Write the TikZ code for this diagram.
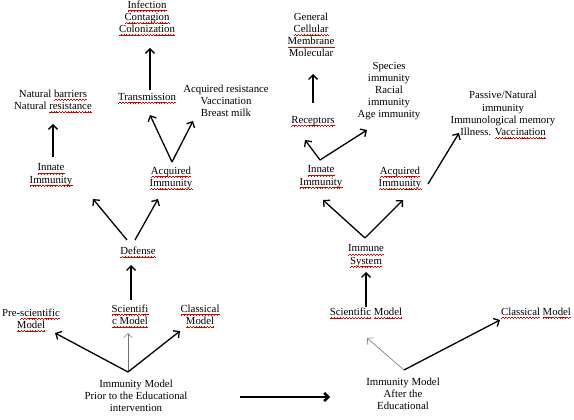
\documentclass[tikz,border=0pt]{standalone}
\usepackage{fontspec}
\setmainfont{Liberation Serif}
\usetikzlibrary{arrows.meta}
\newsavebox\rwbox
\newsavebox\waveunit
\sbox\waveunit{\color{red!85!black}%
  \raise0pt\hbox{\vrule width0.7pt height0.4pt depth0pt}%
  \raise0.4pt\hbox{\vrule width0.7pt height0.4pt depth0pt}%
  \raise0.8pt\hbox{\vrule width0.7pt height0.4pt depth0pt}%
  \raise0.4pt\hbox{\vrule width0.7pt height0.4pt depth0pt}}
\newcommand\rw[1]{\sbox\rwbox{#1}\leavevmode\rlap{\lower3.0pt\hbox to\wd\rwbox{\xleaders\copy\waveunit\hfil}}\usebox\rwbox}
\tikzset{
  txt/.style={inner sep=0.5pt, align=center, font=\fontsize{10.8}{12.2}\selectfont},
  arr/.style={line width=1.3pt, -{Straight Barb[length=4.5pt,width=9pt]}},
  thinarr/.style={line width=0.6pt, draw=black!55, -{Straight Barb[length=4.5pt,width=9pt]}},
  bigarr/.style={line width=2.6pt, -{Straight Barb[length=4pt,width=8pt]}}
}
\begin{document}
\begin{tikzpicture}[x=1pt,y=-1pt]
\useasboundingbox (0,0) rectangle (574,420);
% ---------- left ----------
\node[txt] (infect) at (147,18) {\rw{Infection}\\\rw{Contagion}\\\rw{Colonization}};
\node[txt] (trans) at (147,98) {\rw{Transmission}};
\node[txt] (natural) at (53,101) {Natural \rw{barriers}\\Natural \rw{resistance}};
\node[txt] (acqres) at (226,101) {Acquired resistance\\Vaccination\\Breast milk};
\node[txt] (innL) at (51,175) {\rw{Innate}\\\rw{Immunity}};
\node[txt] (acqL) at (171,178) {\rw{Acquired}\\\rw{Immunity}};
\node[txt] (defense) at (138,252) {\rw{Defense}};
\node[txt] (preL) at (31,320) {Pre-\rw{scientific}\\\rw{Model}};
\node[txt] (sciL) at (130,316) {\rw{Scientifi}\\\rw{c Model}};
\node[txt] (clasL) at (200,316) {\rw{Classical}\\\rw{Model}};
\node[txt] (immL) at (136,396) {Immunity Model\\Prior to the Educational\\intervention};
% ---------- right ----------
\node[txt] (general) at (311,35) {General\\\rw{Cellular}\\\rw{Membrane}\\Molecular};
\node[txt] (recep) at (313,121) {\rw{Receptors}};
\node[txt] (species) at (389,91) {Species\\immunity\\Racial\\immunity\\Age immunity};
\node[txt] (passive) at (503,115) {Passive/Natural\\immunity\\Immunological memory\\Illness. \rw{Vaccination}};
\node[txt] (innR) at (321,177) {\rw{Innate}\\\rw{Immunity}};
\node[txt] (acqRR) at (400,178) {\rw{Acquired}\\\rw{Immunity}};
\node[txt] (immune) at (366,256) {\rw{Immune}\\\rw{System}};
\node[txt] (sciR) at (366,313) {\rw{Scientific} \rw{Model}};
\node[txt] (clasR) at (536,313) {\rw{Classical} \rw{Model}};
\node[txt] (immR) at (403,394) {Immunity Model\\After the\\Educational};
% ---------- left arrows ----------
\draw[arr] ([shift={(3,-8)}]trans.center) -- ([shift={(3,30)}]infect.center);
\draw[arr] ([shift={(2,-18)}]innL.center) -- ([shift={(0,23)}]natural.center);
\draw[arr] ([shift={(1,-16)}]acqL.center) -- ([shift={(3,17)}]trans.center);
\draw[arr] ([shift={(1,-16)}]acqL.center) -- ([shift={(-33,20)}]acqres.center);
\draw[arr] ([shift={(-11,-12)}]defense.center) -- ([shift={(-45,-53)}]defense.center);
\draw[arr] ([shift={(-3,-12)}]defense.center) -- ([shift={(20,-53)}]defense.center);
\draw[arr] ([shift={(1,-16)}]sciL.center) -- ([shift={(-7,13)}]defense.center);
\draw[arr] ([shift={(-8,-24)}]immL.center) -- ([shift={(24,13)}]preL.center);
\draw[thinarr] ([shift={(-8,-24)}]immL.center) -- ([shift={(-2,17)}]sciL.center);
\draw[arr] ([shift={(-8,-24)}]immL.center) -- ([shift={(-20,15)}]clasL.center);
\draw[bigarr] ([shift={(104,1)}]immL.center) -- ([shift={(-73,3)}]immR.center);
% ---------- right arrows ----------
\draw[arr] ([shift={(0,-18)}]recep.center) -- ([shift={(2,39)}]general.center);
\draw[arr] ([shift={(-1,-17)}]innR.center) -- ([shift={(-8,19)}]recep.center);
\draw[arr] ([shift={(-1,-17)}]innR.center) -- ([shift={(-22,39)}]species.center);
\draw[arr] ([shift={(28,6)}]acqRR.center) -- ([shift={(-44,18)}]passive.center);
\draw[arr] ([shift={(-1,-18)}]immune.center) -- ([shift={(-77,22)}]acqRR.center);
\draw[arr] ([shift={(-1,-18)}]immune.center) -- ([shift={(3,22)}]acqRR.center);
\draw[arr] ([shift={(0,-6)}]sciR.center) -- ([shift={(0,16)}]immune.center);
\draw[thinarr] ([shift={(1,-24)}]immR.center) -- ([shift={(1,25)}]sciR.center);
\draw[arr] ([shift={(1,-24)}]immR.center) -- ([shift={(-36,7)}]clasR.center);
\end{tikzpicture}
\end{document}
